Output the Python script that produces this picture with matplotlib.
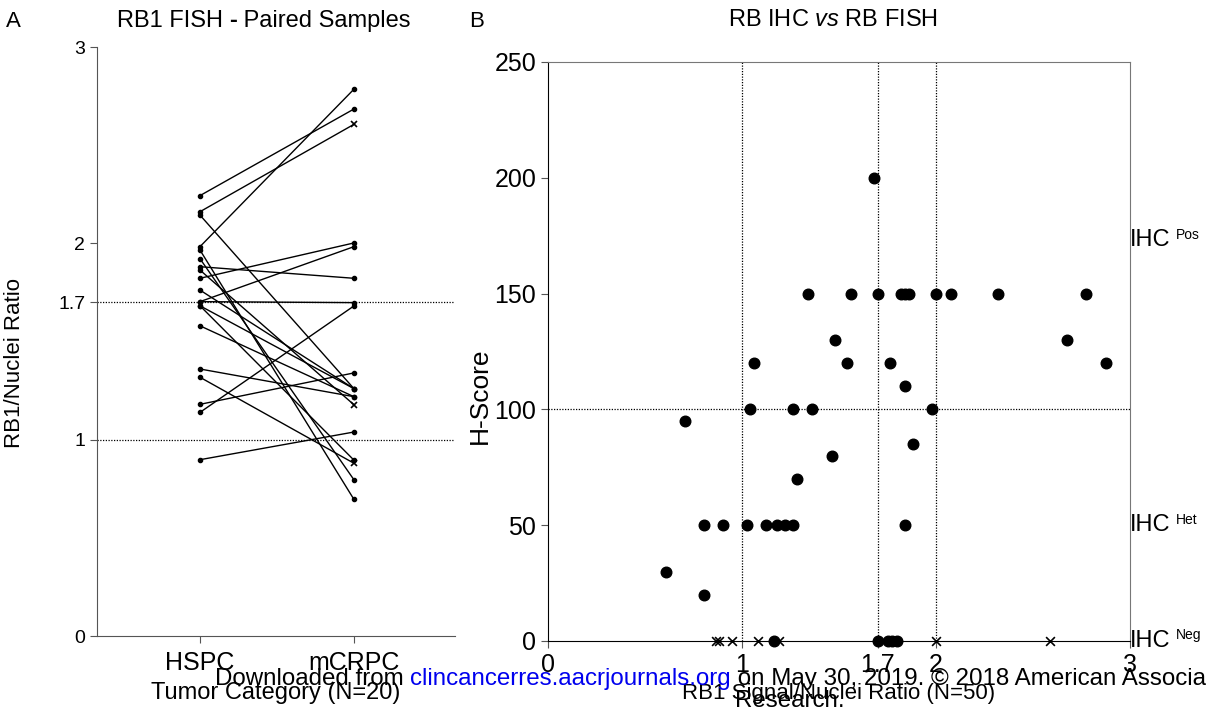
import matplotlib
matplotlib.use("Agg")
import matplotlib.pyplot as plt

plt.rcParams["font.family"] = ["Liberation Sans", "DejaVu Sans"]
plt.rcParams["mathtext.fontset"] = "custom"
plt.rcParams["mathtext.rm"] = "Liberation Sans"
plt.rcParams["mathtext.it"] = "Liberation Sans:italic"

# --- Panel A data: paired RB1/nuclei ratios ---
categories = ["HSPC", "mCRPC"]
hspc = [2.243, 2.161, 2.144, 1.983, 1.966, 1.922, 1.881, 1.864, 1.822, 1.762,
        1.703, 1.703, 1.682, 1.682, 1.580, 1.360, 1.318, 1.180, 1.139, 0.898]
mcrpc = [2.684, 2.606, 1.260, 2.785, 0.696, 0.796, 1.822, 1.178, 2.002, 1.260,
         1.983, 1.698, 1.260, 0.896, 1.219, 1.219, 0.880, 1.340, 1.681, 1.039]
mcrpc_cross = [False, True, False, False, False, False, False, True, False, False,
               False, False, False, False, False, False, True, False, False, False]
a_yticks = [0, 1, 1.7, 2, 3]
a_cutoffs = [1, 1.7]

# --- Panel B data: FISH ratio vs IHC H-score ---
fish_dot = [0.607, 0.706, 0.804, 0.804, 0.904, 1.024, 1.043, 1.063, 1.125, 1.182,
            1.223, 1.264, 1.263, 1.282, 1.342, 1.362, 1.462, 1.481, 1.541, 1.562,
            1.682, 1.700, 1.761, 1.818, 1.840, 1.861, 1.842, 1.842, 1.880, 1.979,
            2.000, 2.079, 2.318, 2.675, 2.775, 2.875,
            1.167, 1.703, 1.754, 1.775, 1.797]
hscore_dot = [30, 95, 50, 20, 50, 50, 100, 120, 50, 50,
              50, 50, 100, 70, 150, 100, 80, 130, 120, 150,
              200, 150, 120, 150, 150, 150, 110, 50, 85, 100,
              150, 150, 150, 130, 150, 120,
              0, 0, 0, 0, 0]
fish_cross = [0.864, 0.881, 0.947, 1.084, 1.192, 2.000, 2.588]
hscore_cross = [0, 0, 0, 0, 0, 0, 0]
b_xticks = [0, 1, 1.7, 2, 3]
b_vlines = [1, 1.7, 2]
b_hline = 100
ihc_labels = [("Pos", 173), ("Het", 50), ("Neg", 0)]

fig = plt.figure(figsize=(12.06, 7.10), dpi=100)
dotted = (0, (1, 1.2))

# ---------------- Panel A ----------------
axA = fig.add_axes([0.0804, 0.1042, 0.2968, 0.8296])
for i, (a, b) in enumerate(zip(hspc, mcrpc)):
    axA.plot([0, 1], [a, b], color="black", lw=1)
    axA.plot(0, a, "o", color="black", ms=3)
    if mcrpc_cross[i]:
        axA.plot(1, b, "x", color="black", ms=4, mew=1.2)
    else:
        axA.plot(1, b, "o", color="black", ms=3)
for c in a_cutoffs:
    axA.axhline(c, color="black", lw=0.9, ls=dotted)
axA.set_xlim(-0.669, 1.656)
axA.set_ylim(0, 3)
axA.set_yticks(a_yticks)
axA.set_yticklabels(["0", "1", "1.7", "2", "3"])
axA.set_xticks([0, 1])
axA.set_xticklabels(categories)
axA.tick_params(axis="y", labelsize=14, length=5, color="#555555")
axA.tick_params(axis="x", labelsize=18, length=5, pad=6, color="#555555")
for s in ["top", "right"]:
    axA.spines[s].set_visible(False)
axA.spines["left"].set_color("#555555")
axA.spines["bottom"].set_color("#555555")
axA.set_ylabel("RB1/Nuclei Ratio", fontsize=16)
axA.yaxis.set_label_coords(-0.2, 0.4635)
axA.set_xlabel("Tumor Category (N=20)", fontsize=17, labelpad=5)

# title with bold dash
t1 = fig.text(0.097, 0.962, "RB1 FISH ", fontsize=17, ha="left", va="baseline")
t2 = axA.annotate("-", xy=(1, 0), xycoords=t1, fontsize=17, fontweight="bold",
                  va="bottom", ha="left")
axA.annotate(" Paired Samples", xy=(1, 0), xycoords=t2, fontsize=17,
             va="bottom", ha="left")
fig.text(0.005, 0.962, "A", fontsize=16, ha="left", va="baseline")

# ---------------- Panel B ----------------
axB = fig.add_axes([0.4544, 0.0972, 0.4826, 0.8155])
for v in b_vlines:
    axB.axvline(v, color="black", lw=0.9, ls=dotted)
axB.axhline(b_hline, color="black", lw=0.9, ls=dotted)
axB.scatter(fish_dot, hscore_dot, s=58, color="black", zorder=3, clip_on=False)
axB.scatter(fish_cross, hscore_cross, s=40, marker="x", color="black",
            linewidths=1.2, zorder=3, clip_on=False)
axB.set_xlim(0, 3)
axB.set_ylim(0, 250)
axB.set_xticks(b_xticks)
axB.set_xticklabels(["0", "1", "1.7", "2", "3"])
axB.set_yticks([0, 50, 100, 150, 200, 250])
axB.tick_params(labelsize=18, length=5, color="#555555")
axB.tick_params(axis="x", pad=4)
axB.spines["right"].set_color("#777777")
axB.spines["top"].set_color("#777777")
axB.set_ylabel("H-Score", fontsize=19)
axB.yaxis.set_label_coords(-0.097, 0.423)
axB.set_xlabel("RB1 Signal/Nuclei Ratio (N=50)", fontsize=16, labelpad=4)
fig.text(0.691, 0.972, r"RB IHC $\it{vs}$ RB FISH", fontsize=17,
         ha="center", va="center")
fig.text(0.389, 0.962, "B", fontsize=16, ha="left", va="baseline")

for name, yv in ihc_labels:
    t = axB.text(1.0, yv, "IHC", transform=axB.get_yaxis_transform(),
                 fontsize=17, ha="left", va="center")
    axB.annotate(name, xy=(1, 0.75), xycoords=t, xytext=(4, 0),
                 textcoords="offset points", fontsize=10, ha="left", va="center")

# ---------------- watermark ----------------
w1 = fig.text(0.178, 0.035, "Downloaded from ", fontsize=17.4, ha="left",
              va="baseline")
w2 = axB.annotate("clincancerres.aacrjournals.org", xy=(1, 0), xycoords=w1,
                  fontsize=17.4, color="#0000ee", ha="left", va="bottom",
                  annotation_clip=False)
axB.annotate(" on May 30, 2019. \u00a9 2018 American Association for Cancer",
             xy=(1, 0), xycoords=w2, fontsize=17.4, ha="left", va="bottom",
             annotation_clip=False)
fig.text(0.655, 0.004, "Research.", fontsize=17.4, ha="center", va="baseline")

fig.savefig("out.png", dpi=100)
